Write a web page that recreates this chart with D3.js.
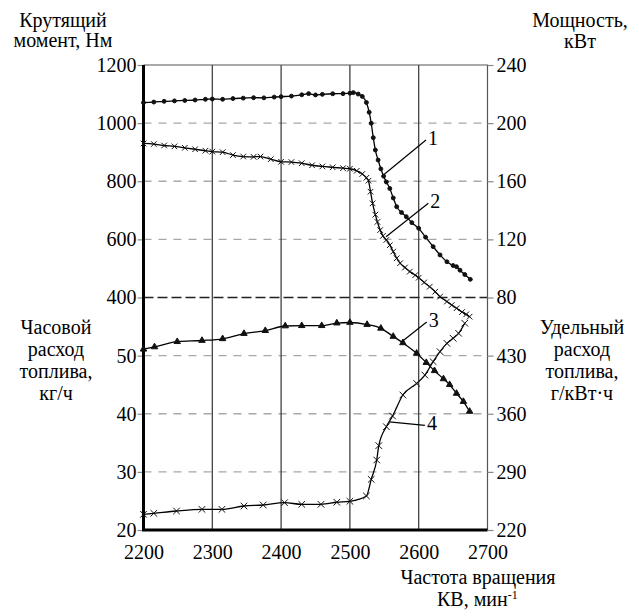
<script src="https://d3js.org/d3.v7.min.js"></script>

<style>
  body { margin: 0; background: white; }
</style>

<div id="graph"></div>

<script>

// Curve 1 - power, kW (right upper axis)
var rpm1 = [2200, 2215, 2230, 2245, 2260, 2275, 2290, 2300, 2315, 2330, 2345, 2360, 2375, 2390, 2400,
  2415, 2430, 2440, 2450, 2460, 2475, 2490, 2500, 2505, 2512, 2518, 2524, 2528, 2531, 2534, 2537, 2541,
  2545, 2549, 2553, 2558, 2563, 2568, 2575, 2582, 2590, 2600, 2610, 2621, 2631, 2641, 2650, 2655, 2660, 2667, 2675]
var power = [214.1, 214.5, 215.0, 215.3, 215.6, 215.9, 216.4, 216.6, 216.4, 216.9, 217.2, 217.5, 217.4, 217.9, 218.2,
  218.6, 219.5, 220.3, 219.4, 219.8, 220.2, 220.3, 220.6, 221.0, 220.0, 218.4, 214.2, 207.5, 199.9, 190.0, 181.5, 174.6,
  168.5, 163.5, 159.5, 155.0, 148.5, 142.5, 138.5, 135.6, 131.5, 127.6, 121.5, 115.0, 109.3, 104.6, 102.0, 101.2, 98.8, 95.8, 92.5]

// Curve 2 - torque, Nm (left upper axis)
var rpm2 = [2200, 2215, 2230, 2245, 2260, 2275, 2290, 2300, 2315, 2330, 2345, 2360, 2370, 2385, 2400, 2415, 2430,
  2445, 2460, 2475, 2490, 2500, 2510, 2518, 2524, 2527, 2530, 2533, 2537, 2540, 2544, 2548, 2553, 2558, 2563, 2568,
  2573, 2580, 2587, 2595, 2600, 2608, 2616, 2624, 2631, 2641, 2648, 2655, 2663, 2669, 2674]
var torque = [930, 928, 923, 920, 915, 910, 905, 902, 900, 890, 885, 884, 885, 876, 867, 866, 862,
  855, 851, 848, 845, 843, 836, 825, 812, 802, 764, 724, 685, 660, 632, 612, 598, 580, 558, 535,
  518, 503, 489, 477, 468, 452, 437, 420, 403, 386, 374, 363, 350, 342, 334]

// Curve 3 - hourly fuel consumption, kg/h (left lower axis)
var rpm3 = [2200, 2216, 2249, 2285, 2315, 2346, 2377, 2406, 2430, 2459, 2481, 2500, 2525, 2545, 2563, 2577,
  2597, 2611, 2623, 2636, 2645, 2655, 2665, 2674]
var hourly = [51.1, 51.5, 52.4, 52.6, 52.9, 53.8, 54.3, 55.1, 55.15, 55.15, 55.6, 55.7, 55.35, 54.7, 53.3, 52.2,
  50.4, 48.8, 47.4, 46.0, 45.0, 43.5, 42.1, 40.4]

// Curve 4 - specific fuel consumption, g/kWh (right lower axis)
var rpm4 = [2200, 2215, 2248, 2285, 2314, 2346, 2374, 2405, 2430, 2458, 2481, 2500, 2524, 2531, 2539, 2542,
  2553, 2562, 2577, 2597, 2609, 2621, 2631, 2641, 2650, 2658, 2667]
var specific = [238.9, 240.1, 242.9, 244.9, 244.9, 248.9, 250.1, 252.9, 250.9, 250.9, 253.4, 254.6, 261, 281, 304.3, 321.6,
  344.4, 357.3, 382.6, 396.5, 406.6, 422.7, 434.8, 444.8, 450.9, 456.9, 469]

// Tick labels
var xTicks = [2200, 2300, 2400, 2500, 2600, 2700]
var torqueTicks = [400, 600, 800, 1000, 1200]
var powerTicks = [80, 120, 160, 200, 240]
var hourlyTicks = [20, 30, 40, 50]
var specificTicks = [220, 290, 360, 430]

// Callout labels: start point on curve, end of leader (rpm, value in that curve's units)
var callouts = [
  {n: '1', axis: 'power', from: [2550, 164.8], to: [2610.6, 188.4]},
  {n: '2', axis: 'torque', from: [2552.5, 609], to: [2614, 724]},
  {n: '3', axis: 'hourly', from: [2576.7, 52.5], to: [2611.6, 55.8]},
  {n: '4', axis: 'hourly', from: [2557.3, 38.6], to: [2609, 38.0]}
]

var FONT = '"Liberation Serif", "Noto Serif", "DejaVu Serif", "FreeSerif", "Nimbus Roman", Times, serif'

// Set dimensions of graph
var W = 639, H = 616
var pl = 143.5, pr = 487.5, pt = 65, pb = 530, pm = 297.5

var svg = d3.select('#graph')
  .append('svg')
  .attr('width', W)
  .attr('height', H)
  .attr('font-family', FONT)

// Scales
var x = d3.scaleLinear().domain([2200, 2700]).range([pl, pr])
var yTorque = d3.scaleLinear().domain([400, 1200]).range([pm, pt])
var yPower = d3.scaleLinear().domain([80, 240]).range([pm, pt])
var yHourly = d3.scaleLinear().domain([20, 60]).range([pb, pm])
var ySpecific = d3.scaleLinear().domain([220, 500]).range([pb, pm])
var scaleFor = {power: yPower, torque: yTorque, hourly: yHourly, specific: ySpecific}

// Horizontal dashed gridlines
svg.append('g').selectAll('line')
  .data([600, 800, 1000])
  .join('line')
  .attr('x1', pl).attr('x2', pr)
  .attr('y1', function(d) { return yTorque(d) })
  .attr('y2', function(d) { return yTorque(d) })
  .attr('stroke', '#a8a8a8').attr('stroke-width', 1.3)
  .attr('stroke-dasharray', '8,7')
svg.append('g').selectAll('line')
  .data([30, 40, 50])
  .join('line')
  .attr('x1', pl).attr('x2', pr)
  .attr('y1', function(d) { return yHourly(d) })
  .attr('y2', function(d) { return yHourly(d) })
  .attr('stroke', '#a8a8a8').attr('stroke-width', 1.3)
  .attr('stroke-dasharray', '8,7')

// Vertical gridlines
svg.append('g')
  .selectAll('line')
  .data([2300, 2400, 2500, 2600])
  .join('line')
  .attr('x1', function(d) { return x(d) })
  .attr('x2', function(d) { return x(d) })
  .attr('y1', pt).attr('y2', pb)
  .attr('stroke', '#333').attr('stroke-width', 1.2)

// Divider between the two halves
svg.append('line')
  .attr('x1', pl).attr('x2', pr)
  .attr('y1', yTorque(400)).attr('y2', yTorque(400))
  .attr('stroke', '#222').attr('stroke-width', 1.4)
  .attr('stroke-dasharray', '10,4')

// Top and right border
svg.append('path')
  .attr('d', 'M' + pl + ',' + pt + 'H' + pr + 'V' + pb)
  .attr('fill', 'none').attr('stroke', '#555').attr('stroke-width', 1.2)

// Axes
function styleAxis(g) {
  g.attr('font-family', FONT).attr('font-size', 20)
  g.select('.domain').remove()
  g.selectAll('.tick line').attr('stroke', '#888').attr('stroke-width', 1.2)
  g.selectAll('.tick text').attr('fill', 'black')
}

svg.append('g').attr('transform', 'translate(' + pl + ',0)')
  .call(d3.axisLeft(yTorque).tickValues(torqueTicks).tickSize(6).tickPadding(1).tickFormat(d3.format('d')))
  .call(styleAxis)
svg.append('g').attr('transform', 'translate(' + pl + ',0)')
  .call(d3.axisLeft(yHourly).tickValues(hourlyTicks).tickSize(6).tickPadding(1).tickFormat(d3.format('d')))
  .call(styleAxis)
svg.append('g').attr('transform', 'translate(' + pr + ',0)')
  .call(d3.axisRight(yPower).tickValues(powerTicks).tickSize(6).tickPadding(3).tickFormat(d3.format('d')))
  .call(styleAxis)
svg.append('g').attr('transform', 'translate(' + pr + ',0)')
  .call(d3.axisRight(ySpecific).tickValues(specificTicks).tickSize(6).tickPadding(3).tickFormat(d3.format('d')))
  .call(styleAxis)
svg.append('g').attr('transform', 'translate(0,' + pb + ')')
  .call(d3.axisBottom(x).tickValues(xTicks).tickSize(0).tickPadding(15).tickFormat(d3.format('d')))
  .call(styleAxis)

// Thick left and bottom axis lines
svg.append('path')
  .attr('d', 'M' + pl + ',' + pt + 'V' + pb + 'H' + pr)
  .attr('fill', 'none').attr('stroke', 'black').attr('stroke-width', 3)

// Curves
function drawCurve(xs, ys, scale, symbol, size, filled) {
  var pts = xs.map(function(v, i) { return [x(v), scale(ys[i])] })
  svg.append('path')
    .attr('d', d3.line().curve(d3.curveMonotoneX)(pts))
    .attr('fill', 'none').attr('stroke', 'black').attr('stroke-width', 1.3)
  svg.append('g')
    .selectAll('path')
    .data(pts)
    .join('path')
    .attr('transform', function(d) { return 'translate(' + d[0] + ',' + d[1] + ')' })
    .attr('d', d3.symbol().type(symbol).size(size))
    .attr('fill', filled ? '#111' : 'none')
    .attr('stroke', '#111').attr('stroke-width', 1)
}

drawCurve(rpm1, power, yPower, d3.symbolCircle, 12, true)
drawCurve(rpm2, torque, yTorque, d3.symbolTimes, 22, false)
drawCurve(rpm3, hourly, yHourly, d3.symbolTriangle, 18, true)
drawCurve(rpm4, specific, ySpecific, d3.symbolTimes, 30, false)

// Callouts
callouts.forEach(function(c) {
  var s = scaleFor[c.axis]
  svg.append('line')
    .attr('x1', x(c.from[0])).attr('y1', s(c.from[1]))
    .attr('x2', x(c.to[0])).attr('y2', s(c.to[1]))
    .attr('stroke', 'black').attr('stroke-width', 1.2)
  svg.append('text')
    .attr('x', x(c.to[0]) + 2).attr('y', s(c.to[1]) + 5)
    .attr('font-size', 20)
    .text(c.n)
})

// Axis titles
function title(lines, cx, y0, step) {
  lines.forEach(function(t, i) {
    svg.append('text')
      .attr('x', cx).attr('y', y0 + i * step)
      .attr('text-anchor', 'middle')
      .attr('font-size', 20)
      .text(t)
  })
}
title(['Крутящий', 'момент, Нм'], 63, 27, 20)
title(['Мощность,', 'кВт'], 580, 27, 21)
title(['Часовой', 'расход', 'топлива,', 'кг/ч'], 56, 334, 22)
title(['Удельный', 'расход', 'топлива,', 'г/кВт·ч'], 582, 334, 22)
title(['Частота вращения'], 478, 584, 0)

var kv = svg.append('text')
  .attr('x', 437).attr('y', 606)
  .attr('font-size', 20)
kv.append('tspan').text('КВ, мин')
kv.append('tspan').attr('dy', -7).attr('font-size', 12).text('-1')

</script>
